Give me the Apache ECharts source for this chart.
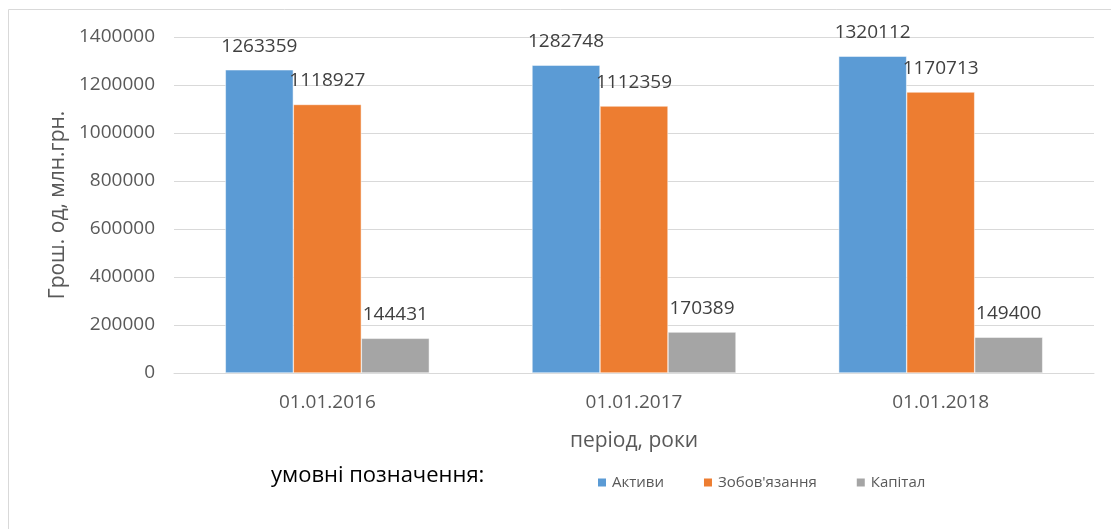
<!DOCTYPE html>
<html>
<head>
<meta charset="utf-8">
<script src="https://cdn.jsdelivr.net/npm/echarts@6/dist/echarts.min.js"></script>
<style>
  html, body { margin: 0; padding: 0; background: #fff; }
  #chart { width: 1111px; height: 529px; }
</style>
</head>
<body>
<div id="chart"></div>
<script>
var chart = echarts.init(document.getElementById('chart'));

// data
var periods = ['01.01.2016', '01.01.2017', '01.01.2018'];
var assets = [1263359, 1282748, 1320112];
var liabilities = [1118927, 1112359, 1170713];
var capital = [144431, 170389, 149400];

var font = '"Open Sans", sans-serif';
var labelStyle = {
    show: true,
    position: 'top',
    distance: 14,
    fontFamily: font,
    fontSize: 19,
    color: '#404040'
};

var option = {
    animation: false,
    textStyle: { fontFamily: font },
    graphic: [
        {
            type: 'rect',
            shape: { x: 8.5, y: 9.5, width: 1200, height: 600 },
            style: { fill: 'none', stroke: '#d9d9d9', lineWidth: 1 },
            silent: true
        },
        {
            type: 'text',
            left: 271,
            top: 465,
            style: { text: 'умовні позначення:', fontFamily: font, fontSize: 22, fill: '#000' }
        }
    ],
    grid: { left: 174, right: 17, top: 37, bottom: 156 },
    legend: {
        left: 591,
        top: 470,
        itemWidth: 10,
        itemHeight: 10,
        itemGap: 38,
        icon: 'rect',
        textStyle: { fontFamily: font, fontSize: 15, color: '#595959' },
        data: ['Активи', "Зобов'язання", 'Капітал']
    },
    xAxis: {
        type: 'category',
        data: periods,
        name: 'період, роки',
        nameLocation: 'middle',
        nameGap: 58,
        nameTextStyle: { fontSize: 21, color: '#595959', fontFamily: font },
        axisLine: { lineStyle: { color: '#d9d9d9' } },
        axisTick: { show: false },
        axisLabel: { margin: 20, fontSize: 19, color: '#595959', fontFamily: font }
    },
    yAxis: {
        type: 'value',
        min: 0,
        max: 1400000,
        interval: 200000,
        name: 'Грош. од, млн.грн.',
        nameLocation: 'middle',
        nameGap: 94,
        nameTextStyle: { fontSize: 21, color: '#595959', fontFamily: font },
        axisLine: { show: false },
        axisTick: { show: false },
        splitLine: { lineStyle: { color: '#d9d9d9', width: 1 } },
        axisLabel: {
            margin: 19, fontSize: 19, color: '#595959', fontFamily: font,
            formatter: function (v) { return String(v); }
        }
    },
    series: [
        {
            name: 'Активи',
            type: 'bar',
            data: assets,
            barWidth: 68,
            barGap: '0%',
            itemStyle: { color: '#5B9BD5', borderColor: '#fff', borderWidth: 0.5 },
            label: labelStyle
        },
        {
            name: "Зобов'язання",
            type: 'bar',
            data: liabilities,
            barWidth: 68,
            barGap: '0%',
            itemStyle: { color: '#ED7D31', borderColor: '#fff', borderWidth: 0.5 },
            label: labelStyle
        },
        {
            name: 'Капітал',
            type: 'bar',
            data: capital,
            barWidth: 68,
            barGap: '0%',
            itemStyle: { color: '#A5A5A5', borderColor: '#fff', borderWidth: 0.5 },
            label: labelStyle
        }
    ]
};

chart.setOption(option);

window.onresize = chart.resize;
</script>
</body>
</html>
